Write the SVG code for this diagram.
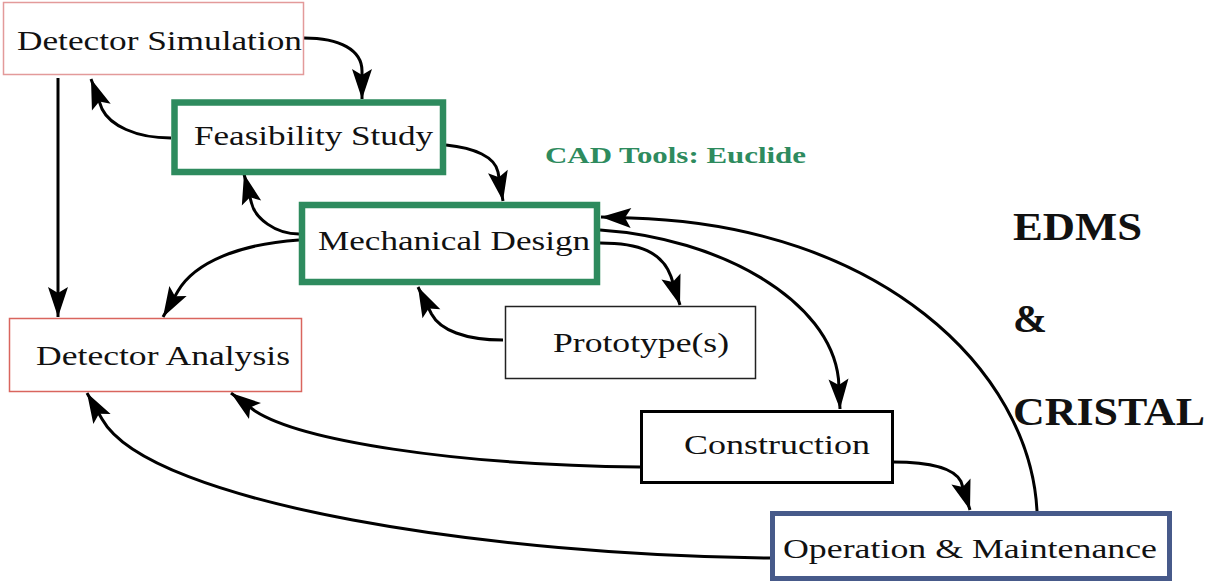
<svg xmlns="http://www.w3.org/2000/svg" width="1206" height="583" viewBox="0 0 1206 583">
<style>
.lbl{font-family:"Liberation Serif","DejaVu Serif",serif;font-size:28px;fill:#111}
.big{font-family:"Liberation Serif","DejaVu Serif",serif;font-size:40px;font-weight:bold;fill:#111}
.cad{font-family:"Liberation Serif","DejaVu Serif",serif;font-size:24px;font-weight:bold;fill:#2e8b5e}
.con{fill:none;stroke:#000;stroke-width:3;marker-end:url(#ah)}
</style>
<defs>
<marker id="ah" markerUnits="userSpaceOnUse" markerWidth="32" markerHeight="22" refX="30" refY="10" orient="auto" overflow="visible">
<path d="M0,0 L30,10 L0,20 L6,10 Z" fill="#000"/>
</marker>
</defs>
<rect width="1206" height="583" fill="#fff"/>
<g id="connectors">
<path class="con" d="M304,38 C340,38 362,50 362,71 L362,99"/>
<path class="con" d="M171,138 C135,138 110,125 102,109 L91,79"/>
<path class="con" d="M58,78 L58,317"/>
<path class="con" d="M446,145 C475,148 495,157 498,172 L503,201"/>
<path class="con" d="M299,234 C275,234 255,218 251.5,203 L244,174"/>
<path class="con" d="M299,240 C240,244 195,262 178,291 L163,317"/>
<path class="con" d="M503,340 C465,340 440,330 431.5,314 L418,287"/>
<path class="con" d="M600,243 C640,243 662,252 671,276.5 L680,305"/>
<path class="con" d="M600,230 C720,238 830,300 838.5,379 L840,409"/>
<path class="con" d="M1037,511 C1030,370 880,225 631,218 L601,217"/>
<path class="con" d="M640,467 C450,465 300,440 255,411 L231,393"/>
<path class="con" d="M893,462 C930,462 954,468 961,481.5 L970,510"/>
<path class="con" d="M770,558 C500,556 150,505 102,419 L87,393"/>
</g>
<g id="detector-simulation">
<rect x="3.5" y="2.5" width="300" height="72" fill="#fff" stroke="#e39a9a" stroke-width="1.5"/>
<text class="lbl" x="17" y="50" textLength="285" lengthAdjust="spacingAndGlyphs">Detector Simulation</text>
</g>
<g id="feasibility-study">
<rect x="174.5" y="102.5" width="268.5" height="69.5" fill="#fff" stroke="#2e8b5e" stroke-width="6.5"/>
<text class="lbl" x="194" y="145" textLength="239" lengthAdjust="spacingAndGlyphs">Feasibility Study</text>
</g>
<g id="mechanical-design">
<rect x="302" y="205" width="295" height="77" fill="#fff" stroke="#2e8b5e" stroke-width="6.5"/>
<text class="lbl" x="318" y="250" textLength="272" lengthAdjust="spacingAndGlyphs">Mechanical Design</text>
</g>
<g id="prototypes">
<rect x="505.5" y="306.5" width="250" height="72" fill="#fff" stroke="#222" stroke-width="1.5"/>
<text class="lbl" x="553" y="352" textLength="176" lengthAdjust="spacingAndGlyphs">Prototype(s)</text>
</g>
<g id="detector-analysis">
<rect x="9.5" y="318.5" width="292" height="73" fill="#fff" stroke="#d9655e" stroke-width="1.5"/>
<text class="lbl" x="36" y="365" textLength="254" lengthAdjust="spacingAndGlyphs">Detector Analysis</text>
</g>
<g id="construction">
<rect x="641.5" y="411.5" width="251" height="71" fill="#fff" stroke="#000" stroke-width="3"/>
<text class="lbl" x="684" y="454" textLength="186" lengthAdjust="spacingAndGlyphs">Construction</text>
</g>
<g id="operation-maintenance">
<rect x="772.5" y="513.5" width="397" height="65" fill="#fff" stroke="#475a8a" stroke-width="5"/>
<text class="lbl" x="783" y="558" textLength="374" lengthAdjust="spacingAndGlyphs">Operation &amp; Maintenance</text>
</g>
<g id="labels">
<text class="cad" x="545" y="163" textLength="261" lengthAdjust="spacingAndGlyphs">CAD Tools: Euclide</text>
<text class="big" x="1013" y="240" textLength="129" lengthAdjust="spacingAndGlyphs">EDMS</text>
<text class="big" x="1013" y="332" textLength="34" lengthAdjust="spacingAndGlyphs">&amp;</text>
<text class="big" x="1013" y="425" textLength="192" lengthAdjust="spacingAndGlyphs">CRISTAL</text>
</g>
</svg>
